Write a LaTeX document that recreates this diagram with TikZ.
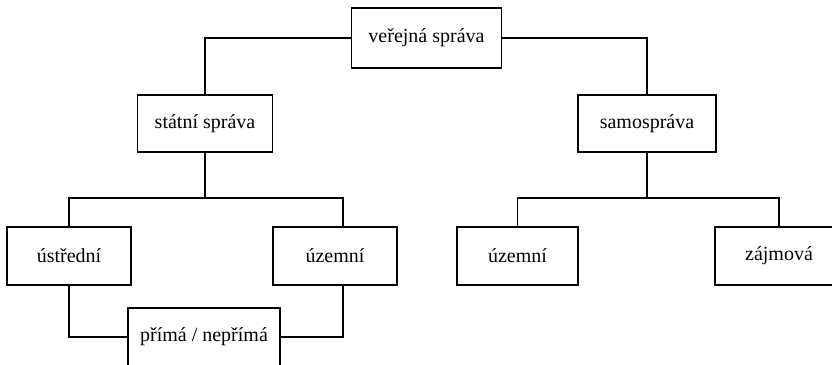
\documentclass[tikz,border=0pt]{standalone}
\usepackage{fontspec}
\setmainfont{Liberation Serif}
\usetikzlibrary{positioning}

\begin{document}
\begin{tikzpicture}[x=1pt, y=-1pt,
    font=\fontsize{20}{24}\selectfont,
    line width=1.2pt,
    orgbox/.style={draw, fill=white, inner xsep=17pt,
                   minimum width=124pt, minimum height=58pt}]
    \useasboundingbox (0,0) rectangle (832,364);

    % Add the boxes
        \node[orgbox, minimum height=60pt] (verejna) at (426.5,38) {veřejná správa};
        \node[orgbox, minimum height=57pt] (statni) at (205,123.5) {státní správa};
        \node[orgbox, minimum height=57pt,
              minimum width=138pt] (samo) at (647,123.5) {samospráva};
        \node[orgbox] (ustr) at (69,256) {ústřední};
        \node[orgbox] (uzem) at (335,256) {územní};
        \node[orgbox, minimum width=121pt] (uzemsam) at (517.5,256) {územní};
        \node[orgbox, minimum width=128pt] (zajm) at (779,256) {zájmová};
        \node[orgbox, inner xsep=10pt,
              minimum width=152pt] (prima) at (204,337) {přímá / nepřímá};

    % branch points
        \coordinate (statbr) at (205,198);
        \coordinate (samobr) at (647,198);

    % Add the connectors
        \draw (verejna.west) -| (statni.north);
        \draw (verejna.east) -| (samo.north);
        \draw (statni.south) -- (statbr);
        \draw (ustr.north) |- (statbr) -| ([xshift=8pt]uzem.north);
        \draw (samo.south) -- (samobr);
        \draw (uzemsam.north) |- (samobr) -| (zajm.north);
        \draw (ustr.south) |- (prima.west);
        \draw ([xshift=8pt]uzem.south) |- (prima.east);
\end{tikzpicture}
\end{document}
